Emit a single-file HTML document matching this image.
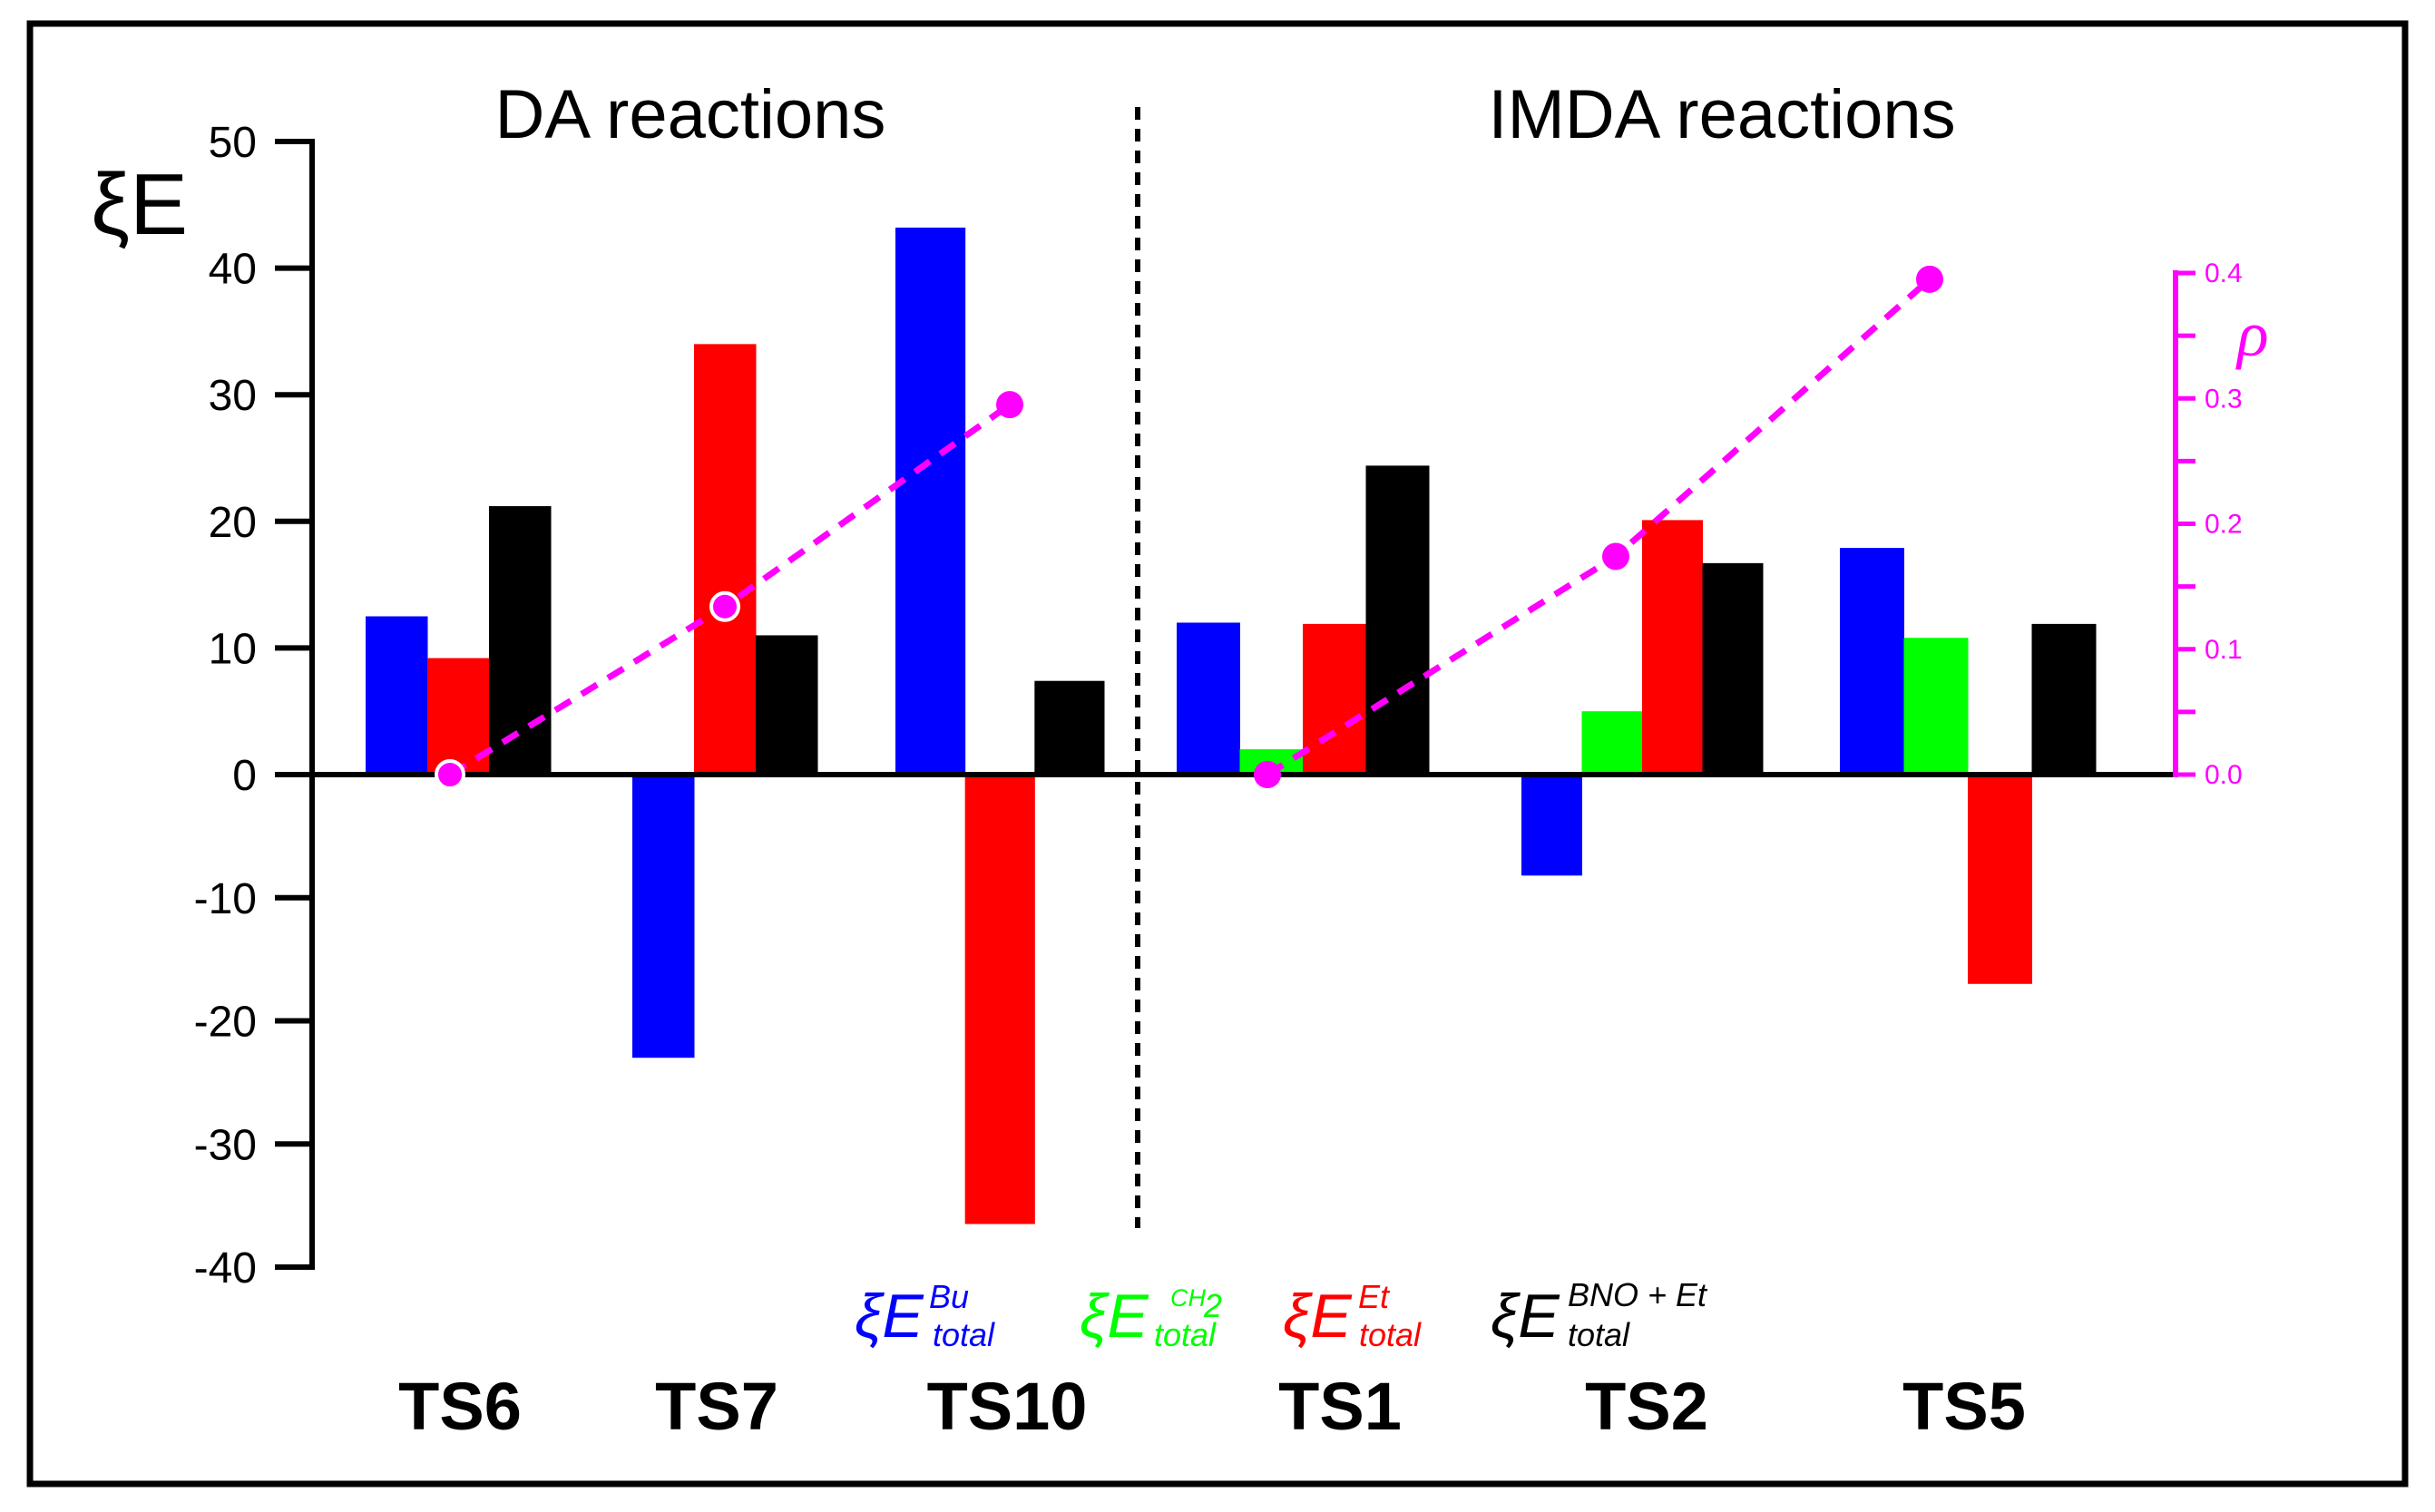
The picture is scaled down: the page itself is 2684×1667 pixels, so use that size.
<!DOCTYPE html>
<html><head><meta charset="utf-8"><style>
html,body{margin:0;padding:0;background:#fff;width:2684px;height:1667px;overflow:hidden}
svg{display:block;font-family:"Liberation Sans",Arial,sans-serif}
</style></head><body>
<svg id="chart" width="2684" height="1667" viewBox="0 0 2684 1667" xmlns="http://www.w3.org/2000/svg">
<rect x="33" y="26" width="2618" height="1610" fill="#fff" stroke="#000" stroke-width="7"/>
<text x="761" y="152" font-size="76" text-anchor="middle">DA reactions</text>
<text x="1898" y="152" font-size="76" text-anchor="middle">IMDA reactions</text>
<text x="100" y="258" font-size="96">ξE</text>
<line x1="1254" y1="118" x2="1254" y2="1354" stroke="#000" stroke-width="6" stroke-dasharray="14,10"/>
<g id="bars"></g>
<g id="axes"></g>
<g id="rho"></g>
<text x="2466" y="392" font-size="72" font-style="italic" fill="#ff00ff" font-family="'Liberation Serif',serif">ρ</text>
<g font-style="italic">
<g fill="#0000ff"><text x="942" y="1474" font-size="68">ξE</text><text x="1024" y="1442" font-size="36">Bu</text><text x="1028" y="1484" font-size="36">total</text></g>
<g fill="#00ff00"><text x="1190" y="1474" font-size="68">ξE</text><text x="1290" y="1440" font-size="27">CH</text><text x="1327" y="1452" font-size="36">2</text><text x="1272" y="1484" font-size="36">total</text></g>
<g fill="#ff0000"><text x="1414" y="1474" font-size="68">ξE</text><text x="1497" y="1442" font-size="36">Et</text><text x="1498" y="1484" font-size="36">total</text></g>
<g fill="#000"><text x="1643" y="1474" font-size="68">ξE</text><text x="1728" y="1440" font-size="36">BNO + Et</text><text x="1728" y="1484" font-size="36">total</text></g>
</g>
</svg>
<script>
const categories = ["TS6","TS7","TS10","TS1","TS2","TS5"];
const buValues  = [12.5, -23, 43.2, 12, -8.2, 17.9];
const ch2Values = [null, null, null, 2, 5, 10.8];
const etValues  = [9.2, 34, -36.5, 11.9, 20.1, -17];
const bnoValues = [21.2, 11, 7.4, 24.4, 16.7, 11.9];
const rhoValues = [0.0, 0.134, 0.295, 0.0, 0.174, 0.395];
const yTicks = [50,40,30,20,10,0,-10,-20,-30,-40];
const rhoTicks = [0.0,0.1,0.2,0.3,0.4];
const seriesColors = ["#0000ff","#00ff00","#ff0000","#000000"];
const seriesNames = ["bu","ch2","et","bno"];

const groupStart = [403,697,987,1297,1677,2028];
const groupEnd = [607,901,1217,1575,1943,2310];
const rhoX = [496,799,1113,1397,1781,2127];
const labelX = [507,790,1110,1477,1815,2165];

const y = v => v >= 0 ? 854 - v*13.96 : 854 - v*13.575;
const yr = r => 854 - r*1382.5;
const NS = "http://www.w3.org/2000/svg";
function mk(tag, attrs, parent){const e=document.createElementNS(NS,tag);for(const k in attrs)e.setAttribute(k,attrs[k]);parent.appendChild(e);return e;}

const bars = document.getElementById('bars');
const series = [buValues, ch2Values, etValues, bnoValues];
categories.forEach((c,i)=>{
  const present = series.map((s,k)=>k).filter(k=>series[k][i]!==null);
  const w = (groupEnd[i]-groupStart[i])/present.length;
  present.forEach((k,j)=>{
    const v = series[k][i];
    const r = mk('rect',{x:groupStart[i]+j*w,y:Math.min(y(v),y(0)),width:w+0.5,height:Math.abs(y(v)-y(0)),fill:seriesColors[k]},bars);
    
    
  });
  const t = mk('text',{x:labelX[i],y:1576,'font-size':74,'font-weight':'bold','text-anchor':'middle'},bars);
  t.textContent = c;
  
  
});

const axes = document.getElementById('axes');
const zl = mk('line',{x1:344,y1:y(0),x2:2398,y2:y(0),stroke:'#000','stroke-width':6},axes);


const ya = mk('line',{x1:344,y1:y(50)-3,x2:344,y2:y(-40)+3,stroke:'#000','stroke-width':6},axes);


yTicks.forEach(t=>{
  mk('line',{x1:303,y1:y(t),x2:344,y2:y(t),stroke:'#000','stroke-width':6},axes);
  const tx = mk('text',{x:283,y:y(t)+17,'font-size':48,'text-anchor':'end'},axes);
  tx.textContent = t;
  
  
});
const ra = mk('line',{x1:2398,y1:yr(0.4)-3,x2:2398,y2:yr(0)+3,stroke:'#ff00ff','stroke-width':6},axes);


for(let k=0;k<=8;k++){ mk('line',{x1:2398,y1:yr(k*0.05),x2:2420,y2:yr(k*0.05),stroke:'#ff00ff','stroke-width':5},axes); }
rhoTicks.forEach(t=>{
  const tx = mk('text',{x:2430,y:yr(t)+10,'font-size':30,fill:'#ff00ff'},axes);
  tx.textContent = t.toFixed(1);
  
  
});

const rho = document.getElementById('rho');
[[0,3],[3,6]].forEach(([a,b])=>{
  const pts = [];
  for(let i=a;i<b;i++) pts.push(rhoX[i]+','+yr(rhoValues[i]));
  const pl = mk('polyline',{points:pts.join(' '),fill:'none',stroke:'#ff00ff','stroke-width':7,'stroke-dasharray':'20,14'},rho);
  
  
});
categories.forEach((c,i)=>{
  const ring = i<2;
  const p = mk('circle',{cx:rhoX[i],cy:yr(rhoValues[i]),r:15,fill:'#ff00ff',stroke:ring?'#fff':'none','stroke-width':4},rho);
  
  
});
</script>
</body></html>
